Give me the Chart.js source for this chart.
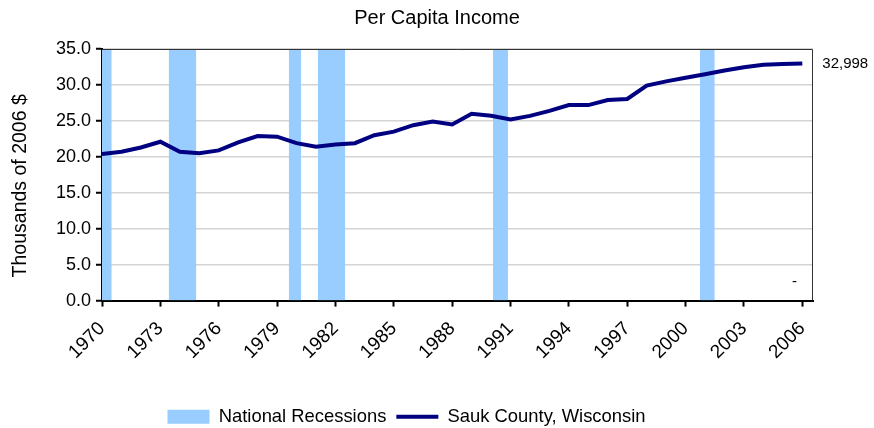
<!DOCTYPE html>
<html>
<head>
<meta charset="utf-8">
<title>Per Capita Income</title>
<script src="https://cdn.jsdelivr.net/npm/chart.js@4.4.1/dist/chart.umd.min.js"></script>
<style>
  html, body { margin: 0; padding: 0; background: #fff; }
</style>
</head>
<body>
<canvas id="incomeChart" width="874" height="428"></canvas>
<script>
// Sauk County per capita income, thousands of 2006 dollars
const years = [1970, 1971, 1972, 1973, 1974, 1975, 1976, 1977, 1978, 1979,
  1980, 1981, 1982, 1983, 1984, 1985, 1986, 1987, 1988, 1989,
  1990, 1991, 1992, 1993, 1994, 1995, 1996, 1997, 1998, 1999,
  2000, 2001, 2002, 2003, 2004, 2005, 2006];
const income = [20.4, 20.7, 21.3, 22.1, 20.7, 20.5, 20.9, 22.0, 22.9, 22.8,
  21.9, 21.4, 21.7, 21.9, 23.0, 23.5, 24.4, 24.9, 24.5, 26.0,
  25.7, 25.2, 25.7, 26.4, 27.2, 27.2, 27.9, 28.05, 29.9, 30.5,
  31.0, 31.5, 32.0, 32.45, 32.8, 32.9, 32.998];
const lastValueLabel = '32,998';

// national recessions, start / end as fractional years
const recessionStart = [1970.0, 1973.43, 1979.6, 1981.09, 1990.1, 2000.74];
const recessionEnd = [1970.5, 1974.85, 1980.23, 1982.51, 1990.87, 2001.5];
const recessionTop = 35;

const yearTicks = [1970, 1973, 1976, 1979, 1982, 1985, 1988, 1991, 1994, 1997, 2000, 2003, 2006];

const fontFamily = "'Liberation Sans', Arial, sans-serif";
Chart.defaults.font.family = fontFamily;
Chart.defaults.color = '#000';

const recessionPoints = [];
recessionStart.forEach((s, i) => {
  recessionPoints.push({x: s, y: recessionTop}, {x: recessionEnd[i], y: recessionTop}, {x: recessionEnd[i], y: null});
});

const extras = {
  id: 'extras',
  afterLayout(chart) {
    // title is centred on the whole canvas, not on the padded box
    const pad = chart.options.layout.padding.right / 2;
    chart.titleBlock.left += pad;
    chart.titleBlock.right += pad;
  },
  afterDatasetsDraw(chart) {
    const {ctx, chartArea} = chart;
    ctx.save();
    ctx.strokeStyle = '#333';
    ctx.lineWidth = 1;
    ctx.beginPath();
    ctx.moveTo(chartArea.left, chartArea.top + 0.5);
    ctx.lineTo(chartArea.right - 0.5, chartArea.top + 0.5);
    ctx.lineTo(chartArea.right - 0.5, chartArea.bottom);
    ctx.stroke();
    ctx.restore();
  },
  afterDraw(chart) {
    const {ctx, chartArea} = chart;
    const meta = chart.getDatasetMeta(0);
    const last = meta.data[meta.data.length - 1];
    const xs = chart.scales.x, ys = chart.scales.y;
    ctx.save();
    ctx.fillStyle = '#000';
    ctx.font = '15px ' + fontFamily;
    ctx.textBaseline = 'middle';
    ctx.fillText(lastValueLabel, last.x + 20, last.y);
    ctx.textAlign = 'center';
    ctx.fillText('-', xs.getPixelForValue(2005.6), ys.getPixelForValue(2.6));
    // y axis title
    ctx.font = '19.5px ' + fontFamily;
    ctx.translate(21, (chartArea.top + chartArea.bottom) / 2 + 11);
    ctx.rotate(-Math.PI / 2);
    ctx.fillText('Thousands of 2006 $', 0, 0);
    ctx.restore();
  }
};

new Chart(document.getElementById('incomeChart'), {
  type: 'line',
  data: {
    datasets: [{
      label: 'Sauk County, Wisconsin',
      data: years.map((yr, i) => ({x: yr, y: income[i]})),
      borderColor: '#000080',
      backgroundColor: '#000080',
      borderWidth: 4,
      pointRadius: 0,
      pointStyle: 'line',
      tension: 0,
      fill: false
    }, {
      label: 'National Recessions',
      data: recessionPoints,
      borderWidth: 0,
      borderColor: 'rgba(0,0,0,0)',
      backgroundColor: '#99ccff',
      pointRadius: 0,
      pointStyle: 'rect',
      spanGaps: false,
      fill: 'origin'
    }]
  },
  options: {
    responsive: false,
    animation: false,
    layout: {
      padding: {left: 0, right: 61, top: 0, bottom: -8}
    },
    plugins: {
      title: {
        display: true,
        text: 'Per Capita Income',
        font: {size: 20, weight: 'normal'},
        padding: {top: 6, bottom: 19}
      },
      legend: {
        position: 'bottom',
        labels: {
          usePointStyle: true,
          pointStyleWidth: 42,
          boxHeight: 14,
          padding: 10,
          font: {size: 18.4},
          sort: (a, b) => b.datasetIndex - a.datasetIndex
        }
      },
      tooltip: {enabled: false}
    },
    scales: {
      x: {
        type: 'linear',
        min: 1970,
        max: 2006.55,
        afterBuildTicks: (scale) => {
          scale.ticks = yearTicks.map(v => ({value: v}));
        },
        afterFit: (scale) => {
          scale.height = 97;
        },
        ticks: {
          autoSkip: false,
          minRotation: 45,
          maxRotation: 45,
          padding: 11,
          font: {size: 19},
          callback: (v) => String(v)
        },
        grid: {
          drawOnChartArea: false,
          tickLength: 6,
          tickColor: '#000',
          tickWidth: 2
        },
        border: {color: '#000', width: 2}
      },
      y: {
        min: 0,
        max: 35,
        afterFit: (scale) => {
          scale.width = 102;
        },
        ticks: {
          stepSize: 5,
          padding: 5,
          font: {size: 18},
          callback: (v) => v.toFixed(1)
        },
        grid: {
          color: '#d4d4d4',
          lineWidth: 1.5,
          tickLength: 6,
          tickColor: '#000',
          tickWidth: 2
        },
        border: {color: '#000', width: 2}
      }
    }
  },
  plugins: [extras]
});
</script>
</body>
</html>
